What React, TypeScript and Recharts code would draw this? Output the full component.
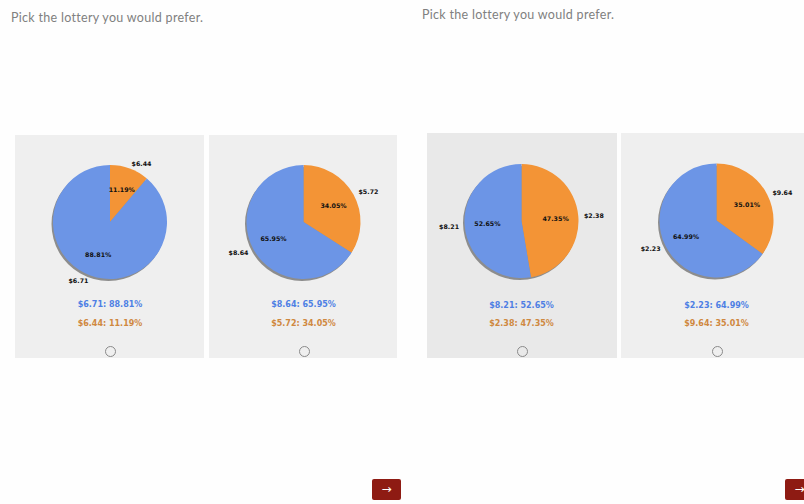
import React from "react";
import { PieChart, Pie, Cell } from "recharts";

// outcome A is drawn blue, outcome B orange
const amountA = ["$6.71", "$8.64", "$8.21", "$2.23"];
const probA = [88.81, 65.95, 52.65, 64.99];
const amountB = ["$6.44", "$5.72", "$2.38", "$9.64"];
const probB = [11.19, 34.05, 47.35, 35.01];
const shadowValue = [1];

const BLUE = "#6c95e6";
const ORANGE = "#f39436";
const BLUE_TXT = "#4e7fe4";
const ORANGE_TXT = "#cf8840";
const RAD = Math.PI / 180;

// page geometry for the four cards
const cards = [
  { x: 15, y: 135, w: 189, h: 223, bg: "#efefef", cx: 110, cy: 222, t1: 305, t2: 324, r: 351 },
  { x: 209, y: 135, w: 188, h: 223, bg: "#efefef", cx: 303.5, cy: 222, t1: 305, t2: 324, r: 351 },
  { x: 427, y: 133, w: 190, h: 225, bg: "#e9e9e9", cx: 521.5, cy: 221, t1: 305.5, t2: 324, r: 351 },
  { x: 621, y: 133, w: 190, h: 225, bg: "#efefef", cx: 716.5, cy: 220.5, t1: 305.5, t2: 324, r: 351 },
];

const R = 57;
const noMargin = { top: 0, right: 0, bottom: 0, left: 0 };

function renderLabel(props: any) {
  const { cx, cy, midAngle, payload } = props;
  const cos = Math.cos(-midAngle * RAD);
  const sin = Math.sin(-midAngle * RAD);
  const ox = cx + R * 1.1 * cos;
  const oy = cy + R * 1.1 * sin;
  const ix = cx + R * 0.6 * cos;
  const iy = cy + R * 0.6 * sin;
  const style = { fontFamily: "DejaVu Sans", fontWeight: 700, fontSize: 6.3 };
  return (
    <g>
      <text x={ox} y={oy} fill="#111" textAnchor={ox > cx ? "start" : "end"} dominantBaseline="central" style={style}>
        {payload.name}
      </text>
      <text x={ix} y={iy} fill="#111" textAnchor="middle" dominantBaseline="central" style={style}>
        {payload.value.toFixed(2)}%
      </text>
    </g>
  );
}

function Card({ i }: { i: number }) {
  const c = cards[i];
  const data = [
    { name: amountB[i], value: probB[i], color: ORANGE },
    { name: amountA[i], value: probA[i], color: BLUE },
  ];
  const lcx = c.cx - c.x;
  const lcy = c.cy - c.y;
  const textStyle: React.CSSProperties = {
    position: "absolute",
    left: 0,
    width: 2 * lcx,
    textAlign: "center",
    fontFamily: "DejaVu Sans",
    fontWeight: 700,
    fontSize: 8,
    lineHeight: "10px",
    whiteSpace: "nowrap",
  };
  return (
    <div style={{ position: "absolute", left: c.x, top: c.y, width: c.w, height: c.h, background: c.bg, overflow: "visible" }}>
      <div style={{ position: "absolute", left: 0, top: 0 }}>
        <PieChart width={c.w} height={180} margin={noMargin}>
          <Pie
            data={shadowValue.map((v) => ({ value: v }))}
            dataKey="value"
            cx={lcx - 1.5}
            cy={lcy + 2}
            outerRadius={R}
            fill="#8d8d8d"
            stroke="none"
            isAnimationActive={false}
          />
          <Pie
            data={data}
            dataKey="value"
            cx={lcx}
            cy={lcy}
            outerRadius={R}
            startAngle={90}
            endAngle={-270}
            stroke="none"
            label={renderLabel}
            labelLine={false}
            isAnimationActive={false}
          >
            {data.map((d, k) => (
              <Cell key={k} fill={d.color} />
            ))}
          </Pie>
        </PieChart>
      </div>
      <div style={{ ...textStyle, top: c.t1 - c.y - 5, color: BLUE_TXT }}>
        {amountA[i]}: {probA[i].toFixed(2)}%
      </div>
      <div style={{ ...textStyle, top: c.t2 - c.y - 5, color: ORANGE_TXT }}>
        {amountB[i]}: {probB[i].toFixed(2)}%
      </div>
      <div
        style={{
          position: "absolute",
          left: lcx - 5,
          top: c.r - c.y - 5,
          width: 9,
          height: 9,
          borderRadius: "50%",
          border: "1px solid #8a8a8a",
        }}
      />
    </div>
  );
}

const titleStyle: React.CSSProperties = {
  position: "absolute",
  fontFamily: "Lato",
  fontWeight: 400,
  fontSize: 12.5,
  color: "#808080",
  letterSpacing: 0.3,
  whiteSpace: "nowrap",
};

const btnStyle: React.CSSProperties = {
  position: "absolute",
  top: 479,
  width: 29,
  height: 21,
  background: "#8e1b13",
  borderRadius: 2,
  color: "#fff",
  fontFamily: "DejaVu Sans",
  fontSize: 12,
  lineHeight: "21px",
  textAlign: "center",
};

export default function App() {
  return (
    <div style={{ position: "absolute", left: 0, top: 0, width: 804, height: 504, background: "#fefefe", overflow: "hidden" }}>
      <div style={{ ...titleStyle, left: 11, top: 10 }}>Pick the lottery you would prefer.</div>
      <div style={{ ...titleStyle, left: 422, top: 7 }}>Pick the lottery you would prefer.</div>
      {cards.map((_, i) => (
        <Card key={i} i={i} />
      ))}
      <div style={{ ...btnStyle, left: 372 }}>→</div>
      <div style={{ ...btnStyle, left: 785 }}>→</div>
    </div>
  );
}
